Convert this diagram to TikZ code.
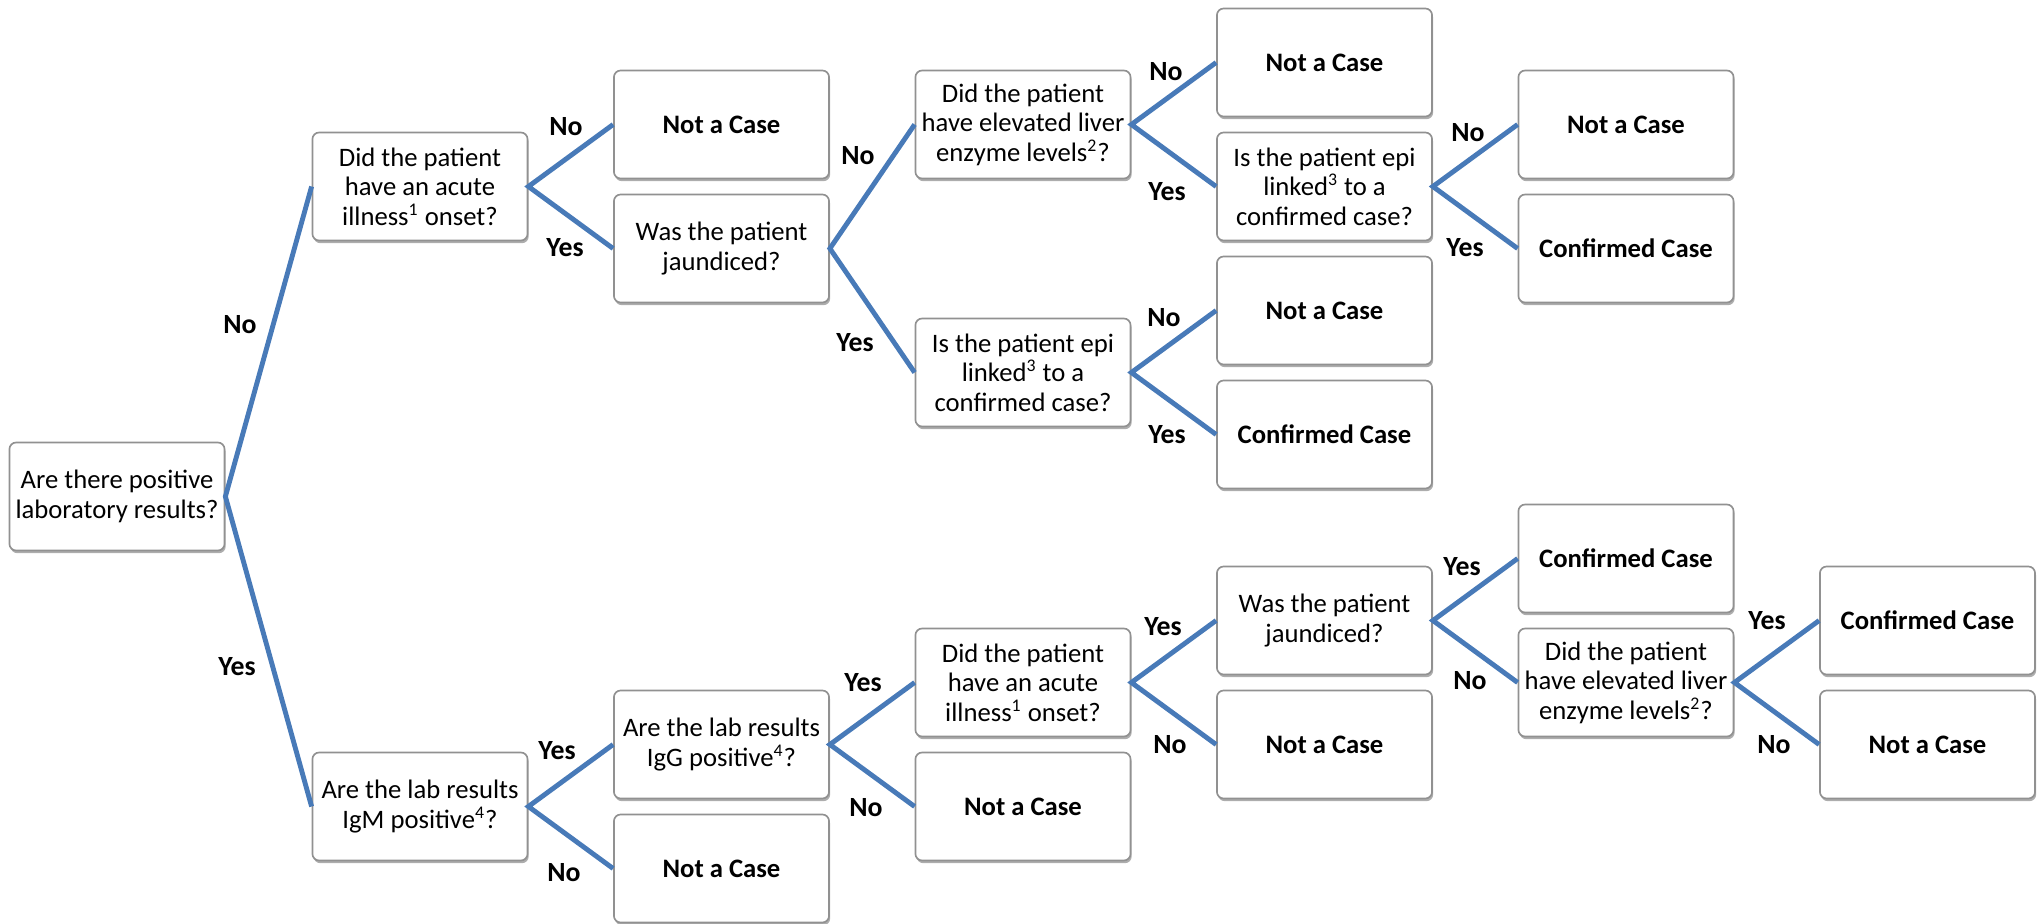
\documentclass[tikz,border=0pt]{standalone}
\usepackage{fontspec}
\setmainfont{Carlito}
\usetikzlibrary{shadows}

\tikzset{
  qbox/.style={draw={rgb,255:red,145;green,145;blue,145}, line width=0.75pt, fill=white,
    rounded corners=3pt, minimum width=96.8pt, minimum height=48.6pt, inner sep=0pt,
    align=center, font=\fontsize{12}{13.3}\selectfont,
    drop shadow={shadow xshift=0.5pt, shadow yshift=-1.2pt, fill=black, opacity=0.32}},
  endbox/.style={qbox, font=\fontsize{12}{13.3}\selectfont\bfseries},
  branch/.style={draw={rgb,255:red,72;green,122;blue,184}, line width=2.2pt},
  ans/.style={font=\fontsize{12.5}{13.3}\selectfont\bfseries, inner sep=0pt}
}

\begin{document}
\begin{tikzpicture}[x=0.45pt,y=0.45pt,yscale=-1]
\useasboundingbox (0,0) rectangle (2039,923);

%Shape: question boxes
\node[qbox] (labres) at (117,496.5) {Are there positive\\laboratory results?};
\node[qbox] (onsetA) at (420,186.5) {Did the patient\\have an acute\\illness\textsuperscript{1} onset?};
\node[qbox] (igm) at (420,806.5) {Are the lab results\\IgM positive\textsuperscript{4}?};
\node[qbox] (jaundA) at (721.5,248.5) {Was the patient\\jaundiced?};
\node[qbox] (igg) at (721.5,744.5) {Are the lab results\\IgG positive\textsuperscript{4}?};
\node[qbox] (enzymeA) at (1023,124.5) {Did the patient\\have elevated liver\\enzyme levels\textsuperscript{2}?};
\node[qbox] (epiA) at (1023,372.5) {Is the patient epi\\linked\textsuperscript{3} to a\\confirmed case?};
\node[qbox] (onsetB) at (1023,682.5) {Did the patient\\have an acute\\illness\textsuperscript{1} onset?};
\node[qbox] (epiB) at (1324.5,186.5) {Is the patient epi\\linked\textsuperscript{3} to a\\confirmed case?};
\node[qbox] (jaundB) at (1324.5,620.5) {Was the patient\\jaundiced?};
\node[qbox] (enzymeB) at (1626,682.5) {Did the patient\\have elevated liver\\enzyme levels\textsuperscript{2}?};

%Shape: outcome boxes
\node[endbox] (notA) at (721.5,124.5) {Not a Case};
\node[endbox] (notB) at (721.5,868.5) {Not a Case};
\node[endbox] (notC) at (1023,806.5) {Not a Case};
\node[endbox] (notD) at (1324.5,62.5) {Not a Case};
\node[endbox] (notE) at (1324.5,310.5) {Not a Case};
\node[endbox] (confA) at (1324.5,434.5) {Confirmed Case};
\node[endbox] (notF) at (1324.5,744.5) {Not a Case};
\node[endbox] (notG) at (1626,124.5) {Not a Case};
\node[endbox] (confB) at (1626,248.5) {Confirmed Case};
\node[endbox] (confC) at (1626,558.5) {Confirmed Case};
\node[endbox] (confD) at (1927.5,620.5) {Confirmed Case};
\node[endbox] (notH) at (1927.5,744.5) {Not a Case};

%Straight Lines
\draw[branch] (onsetA.west) -- (labres.east) -- (igm.west);
\draw[branch] (notA.west) -- (onsetA.east) -- (jaundA.west);
\draw[branch] (enzymeA.west) -- (jaundA.east) -- (epiA.west);
\draw[branch] (notD.west) -- (enzymeA.east) -- (epiB.west);
\draw[branch] (notG.west) -- (epiB.east) -- (confB.west);
\draw[branch] (notE.west) -- (epiA.east) -- (confA.west);
\draw[branch] (igg.west) -- (igm.east) -- (notB.west);
\draw[branch] (onsetB.west) -- (igg.east) -- (notC.west);
\draw[branch] (jaundB.west) -- (onsetB.east) -- (notF.west);
\draw[branch] (confC.west) -- (jaundB.east) -- (enzymeB.west);
\draw[branch] (confD.west) -- (enzymeB.east) -- (notH.west);

% Text Node
\node[ans] (a1) at (240,325) {No};
\node[ans] (a2) at (237,667) {Yes};
\node[ans] (a3) at (566,127) {No};
\node[ans] (a4) at (565,248) {Yes};
\node[ans] (a5) at (858,156) {No};
\node[ans] (a6) at (855,343) {Yes};
\node[ans] (a7) at (1166,72) {No};
\node[ans] (a8) at (1167,192) {Yes};
\node[ans] (a9) at (1164,318) {No};
\node[ans] (a10) at (1167,435) {Yes};
\node[ans] (a11) at (1468,133) {No};
\node[ans] (a12) at (1465,248) {Yes};
\node[ans] (a13) at (557,751) {Yes};
\node[ans] (a14) at (564,873) {No};
\node[ans] (a15) at (863,683) {Yes};
\node[ans] (a16) at (866,808) {No};
\node[ans] (a17) at (1163,627) {Yes};
\node[ans] (a18) at (1170,745) {No};
\node[ans] (a19) at (1462,567) {Yes};
\node[ans] (a20) at (1470,681) {No};
\node[ans] (a21) at (1767,621) {Yes};
\node[ans] (a22) at (1774,745) {No};

\end{tikzpicture}
\end{document}
